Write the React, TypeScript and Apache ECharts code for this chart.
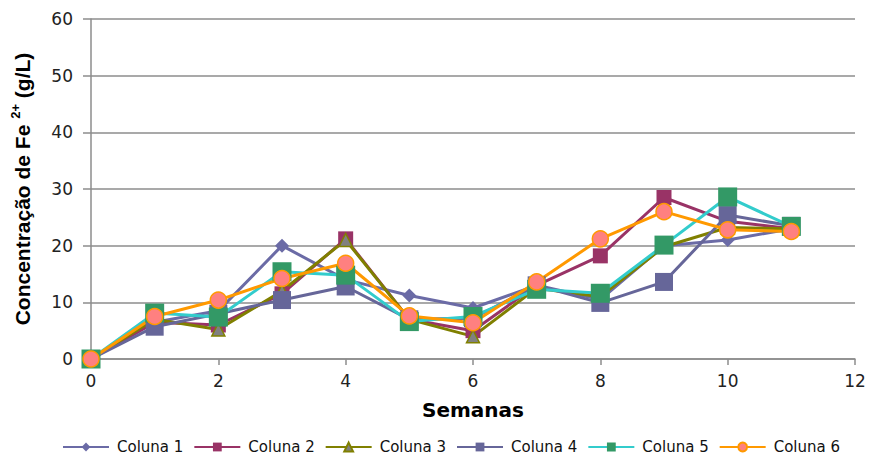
import React, { useEffect, useRef } from "react";
import * as echarts from "echarts";

const weeks = [0, 1, 2, 3, 4, 5, 6, 7, 8, 9, 10, 11];
const coluna1 = [0, 6.5, 8.5, 20, 14, 11.2, 9, 13, 10.5, 20, 21, 23];
const coluna2 = [0, 6.5, 6, 11.5, 21.2, 7, 5, 13, 18.2, 28.5, 24.3, 23];
const coluna3 = [0, 7, 5.2, 12, 21, 7, 4, 12.5, 11, 19.8, 23.2, 23];
const coluna4 = [0, 5.7, 8, 10.4, 12.8, 7, 7.2, 13, 9.9, 13.6, 25.4, 23.5];
const coluna5 = [0, 8.1, 7.4, 15.4, 14.8, 6.6, 7.5, 12.3, 11.6, 20.1, 28.6, 23.4];
const coluna6 = [0, 7.5, 10.4, 14.2, 16.9, 7.6, 6.4, 13.6, 21.2, 26, 22.8, 22.5];
const seriesNames = ["Coluna 1", "Coluna 2", "Coluna 3", "Coluna 4", "Coluna 5", "Coluna 6"];

const FONT = "DejaVu Sans, Verdana, sans-serif";
const TITLE_FONT = "Liberation Sans, Arial, sans-serif";

export default function App() {
  const ref = useRef<HTMLDivElement>(null);
  useEffect(() => {
    document.body.style.margin = "0";
    if (!ref.current) return;
    const chart = echarts.init(ref.current, undefined, { renderer: "svg" });
    const pts = (arr: number[]) => weeks.map((w, i) => [w, arr[i]]);
    const lineSeries = (
      name: string,
      data: number[],
      color: string,
      symbol: string,
      size: number,
      fill: string,
      border: string,
      borderWidth = 0
    ) => ({
      name,
      type: "line",
      data: pts(data),
      symbol,
      symbolSize: size,
      showAllSymbol: true,
      lineStyle: { color, width: 3 },
      itemStyle: { color: fill, borderColor: border, borderWidth },
      emphasis: { disabled: true },
    });
    chart.setOption({
      animation: false,
      backgroundColor: "#ffffff",
      textStyle: { fontFamily: FONT },
      grid: { left: 91, right: 14, top: 19, bottom: 98, containLabel: false },
      legend: {
        data: seriesNames,
        top: 439,
        left: 62,
        padding: 0,
        itemWidth: 46,
        itemHeight: 11,
        itemGap: 10,
        textStyle: { fontFamily: FONT, fontSize: 15, color: "#111", padding: [0, 0, 0, 3], lineHeight: 16 },
      },
      xAxis: {
        type: "value",
        min: 0,
        max: 12,
        interval: 2,
        name: "Semanas",
        nameLocation: "middle",
        nameGap: 41,
        nameTextStyle: { fontFamily: FONT, fontSize: 20, fontWeight: "bold", color: "#000" },
        axisLine: { show: true, lineStyle: { color: "#8c8c8c", width: 1.5 } },
        axisTick: { show: true, length: 6, lineStyle: { color: "#8c8c8c", width: 1.5 } },
        axisLabel: { fontSize: 17, color: "#222", margin: 13, fontFamily: FONT },
        splitLine: { show: false },
      },
      yAxis: {
        type: "value",
        min: 0,
        max: 60,
        interval: 10,
        name: "Concentração de Fe {sup|2+} (g/L)",
        nameLocation: "middle",
        nameRotate: 90,
        nameGap: 56,
        nameTextStyle: {
          fontFamily: TITLE_FONT,
          fontSize: 21,
          fontWeight: "bold",
          color: "#000",
          lineHeight: 26,
          rich: {
            sup: { fontFamily: TITLE_FONT, fontSize: 13, fontWeight: "bold", color: "#000", verticalAlign: "top", lineHeight: 26 },
          },
        },
        axisLine: { show: true, lineStyle: { color: "#8c8c8c", width: 1.5 } },
        axisTick: { show: true, length: 8, lineStyle: { color: "#8c8c8c", width: 1.5 } },
        axisLabel: { fontSize: 17, color: "#222", margin: 18, fontFamily: FONT },
        splitLine: { show: true, lineStyle: { color: "#8c8c8c", width: 1.5 } },
      },
      series: [
        lineSeries("Coluna 1", coluna1, "#6b6ba6", "diamond", 14, "#6b6ba6", "#6b6ba6"),
        lineSeries("Coluna 2", coluna2, "#993366", "rect", 15, "#993366", "#993366"),
        lineSeries("Coluna 3", coluna3, "#808000", "triangle", 13, "#808080", "#808000", 1.5),
        lineSeries("Coluna 4", coluna4, "#666699", "rect", 18, "#666699", "#666699"),
        lineSeries("Coluna 5", coluna5, "#33cccc", "rect", 19, "#339966", "#339966"),
        {
          name: "Coluna 5 star",
          type: "scatter",
          data: pts(coluna5),
          symbol: "path://M0,-1L0,1M-1,0L1,0M-0.7,-0.7L0.7,0.7M-0.7,0.7L0.7,-0.7",
          symbolSize: 11,
          itemStyle: { color: "rgba(0,0,0,0)", borderColor: "#33cccc", borderWidth: 1 },
          emphasis: { disabled: true },
          silent: true,
        },
        lineSeries("Coluna 6", coluna6, "#ff9900", "circle", 16, "#ff8080", "#ff9900", 1.5),
      ],
    });
    return () => chart.dispose();
  }, []);
  return <div ref={ref} style={{ width: 869, height: 457 }} />;
}
